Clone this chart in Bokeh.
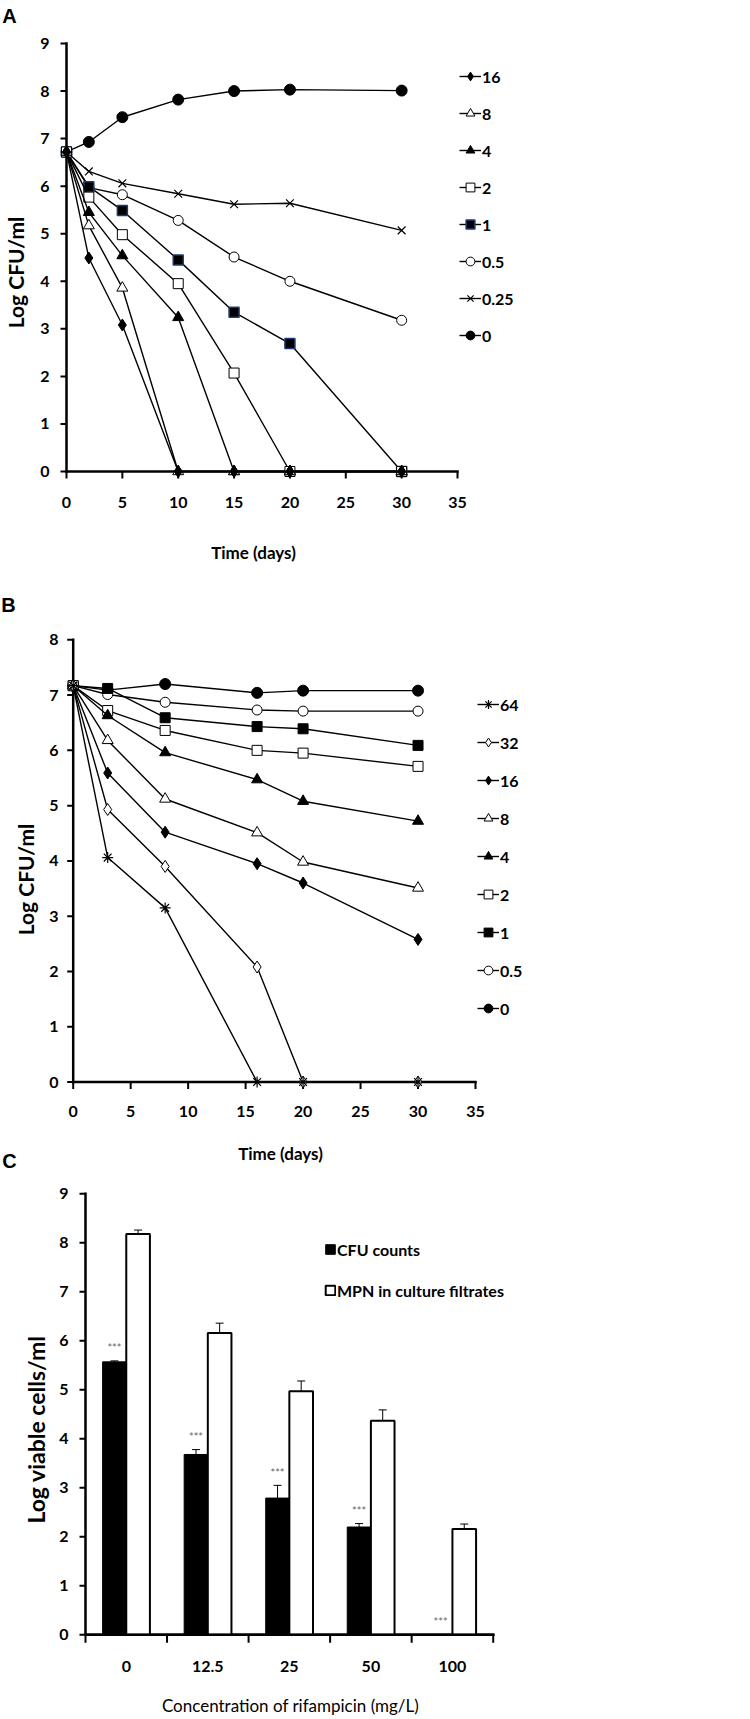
import numpy as np
from bokeh.plotting import figure
from bokeh.layouts import column
from bokeh.models import (ColumnDataSource, Legend, LegendItem, FixedTicker,
                          Whisker, TeeHead, Range1d)
from bokeh.core.properties import value
from bokeh.embed import file_html
from bokeh.resources import INLINE

FONT = "Lato"
LETTER_FONT = "Liberation Sans"

# ---------------- Panel A data ----------------
a_days = [0, 2, 5, 10, 15, 20, 30]
a_conc = ["16", "8", "4", "2", "1", "0.5", "0.25", "0"]
a_16 = [6.72, 4.49, 3.08, 0, 0, 0, 0]
a_8 = [6.72, 5.17, 3.86, 0, 0, 0, 0]
a_4 = [6.72, 5.45, 4.54, 3.24, 0, 0, 0]
a_2 = [6.72, 5.77, 4.98, 3.95, 2.07, 0, 0]
a_1 = [6.72, 5.99, 5.49, 4.45, 3.35, 2.69, 0]
a_05 = [6.72, 5.97, 5.82, 5.28, 4.51, 4.00, 3.18]
a_025 = [6.72, 6.31, 6.06, 5.84, 5.62, 5.64, 5.07]
a_0 = [6.72, 6.93, 7.45, 7.82, 8.00, 8.03, 8.01]
a_x_ticks = [0, 5, 10, 15, 20, 25, 30, 35]
a_y_ticks = [0, 1, 2, 3, 4, 5, 6, 7, 8, 9]

# ---------------- Panel B data ----------------
b_days = [0, 3, 8, 16, 20, 30]
b_conc = ["64", "32", "16", "8", "4", "2", "1", "0.5", "0"]
b_64 = [7.17, 4.06, 3.15, 0, 0, 0]
b_32 = [7.17, 4.93, 3.90, 2.08, 0, 0]
b_16 = [7.17, 5.59, 4.52, 3.95, 3.60, 2.58]
b_8 = [7.17, 6.18, 5.12, 4.51, 3.98, 3.51]
b_4 = [7.17, 6.63, 5.96, 5.47, 5.08, 4.72]
b_2 = [7.17, 6.72, 6.36, 6.00, 5.95, 5.71]
b_1 = [7.17, 7.12, 6.59, 6.43, 6.39, 6.09]
b_05 = [7.17, 7.01, 6.87, 6.73, 6.71, 6.71]
b_0 = [7.17, 7.09, 7.20, 7.04, 7.08, 7.08]
b_x_ticks = [0, 5, 10, 15, 20, 25, 30, 35]
b_y_ticks = [0, 1, 2, 3, 4, 5, 6, 7, 8]

# ---------------- Panel C data ----------------
c_conc = ["0", "12.5", "25", "50", "100"]
c_cfu = [5.57, 3.68, 2.79, 2.20, 0.0]
c_cfu_err = [0.02, 0.10, 0.26, 0.07, 0.0]
c_mpn = [8.18, 6.16, 4.97, 4.37, 2.16]
c_mpn_err = [0.08, 0.20, 0.21, 0.22, 0.10]
c_sig = ["***", "***", "***", "***", "***"]
c_y_ticks = [0, 1, 2, 3, 4, 5, 6, 7, 8, 9]

# ---------------- marker styles ----------------
def mk(marker, size, fill, line="black", lw=1.0):
    return dict(marker=marker, size=size, fill_color=fill, line_color=line, line_width=lw)

FD = mk("diamond", 12, "black")
OD = mk("diamond", 12, "white")
FT = mk("triangle", 11, "black")
OT = mk("triangle", 11, "white")
FS = mk("square", 10, "black")
BS = mk("square", 10, "black", "#1f3a6e", 1.5)
OS = mk("square", 10, "white")
FC = mk("circle", 11, "black")
OC = mk("circle", 10, "white")
XX = mk("x", 11, None, "black", 1.2)
AS = mk("asterisk", 11, None, "black", 1.2)

a_styles = [FD, OT, FT, OS, BS, OC, XX, FC]
b_styles = [AS, OD, FD, OT, FT, OS, FS, OC, FC]

# common frame edges (page pixels) - plots in a column share their frame left edge
FL, FR = 57, 560
RIGHT_BORDER = 185
PAGE_W = FL + (FR - FL) + RIGHT_BORDER


def base_figure(x_range, y_range, ft, fb, canvas_top, canvas_h):
    mbt = ft - canvas_top
    p = figure(title=None, x_range=x_range, y_range=y_range,
               width=PAGE_W, height=canvas_h,
               min_border_left=FL, min_border_right=RIGHT_BORDER,
               min_border_top=mbt, min_border_bottom=canvas_h - (fb - canvas_top),
               output_backend="svg", toolbar_location=None)
    p.grid.visible = False
    p.outline_line_color = None
    p.background_fill_color = "white"
    p.border_fill_color = "white"
    return p


def style_text_axis(ax, standoff):
    ax.axis_line_color = None
    ax.major_tick_line_color = None
    ax.minor_tick_line_color = None
    ax.major_tick_in = 0
    ax.major_tick_out = 0
    ax.minor_tick_in = 0
    ax.minor_tick_out = 0
    ax.major_label_text_font = FONT
    ax.major_label_text_font_size = "16px"
    ax.major_label_text_font_style = "bold"
    ax.major_label_text_color = "black"
    ax.major_label_standoff = standoff


def draw_axes(p, x_lo, x_hi, y_ticks, x_tick_pos, sx, sy, xtick_len=7):
    p.segment(x0=[x_lo, 0], y0=[0, y_ticks[0]], x1=[x_hi, 0], y1=[0, y_ticks[-1]],
              line_color="black", line_width=2.5, line_cap="square")
    p.segment(x0=x_tick_pos, y0=[0] * len(x_tick_pos), x1=x_tick_pos,
              y1=[-xtick_len / sy] * len(x_tick_pos), line_color="black", line_width=2)
    p.segment(x0=[0] * len(y_ticks), y0=y_ticks, x1=[-6 / sx] * len(y_ticks), y1=y_ticks,
              line_color="black", line_width=2)


def add_texts(p, dx, dy, items):
    for (px, py, txt, font, size, style, ang) in items:
        p.text(x=[dx(px)], y=[dy(py)], text=[txt], text_font=value(font),
               text_font_size=size, text_font_style=style, text_color="black",
               text_align="center", text_baseline="middle", angle=ang, level="overlay")


def line_panel(days, names, series, styles, x_ticks, y_ticks, g):
    sx = (g["xmax_px"] - g["x0_px"]) / x_ticks[-1]
    sy = (g["y0_px"] - g["ytop_px"]) / y_ticks[-1]
    dx = lambda px: (px - g["x0_px"]) / sx
    dy = lambda py: (g["y0_px"] - py) / sy
    ft, fb = g["ft"], g["fb"]
    p = base_figure(Range1d(dx(FL), dx(FR)), Range1d(dy(fb), dy(ft)), ft, fb,
                    g["canvas_top"], g["canvas_h"])
    p.xaxis.ticker = FixedTicker(ticks=x_ticks)
    p.yaxis.ticker = FixedTicker(ticks=y_ticks)
    style_text_axis(p.xaxis[0], g["x_standoff"])
    style_text_axis(p.yaxis[0], g["y_standoff"])
    draw_axes(p, x_ticks[0], x_ticks[-1], y_ticks, x_ticks, sx, sy)

    rend = {}
    for name, vals, st in reversed(list(zip(names, series, styles))):
        src = ColumnDataSource(dict(x=days, y=vals))
        lr = p.line("x", "y", source=src, line_color="black", line_width=1.4)
        sr = p.scatter("x", "y", source=src, **st)
        rend[name] = (lr, sr)
    items = [LegendItem(label=n, renderers=list(rend[n])) for n in names]
    lg = g["legend"]
    nitem = len(names)
    h = 24
    top = lg["first_center"] - h / 2
    bottom = top + nitem * h + (nitem - 1) * lg["spacing"]
    leg = Legend(items=items, location=(lg["left"] - FL, fb - bottom),
                 orientation="vertical", glyph_width=22, glyph_height=h, label_height=h,
                 spacing=lg["spacing"], padding=0, margin=0, border_line_color=None,
                 background_fill_alpha=0, label_standoff=1,
                 label_text_font=FONT, label_text_font_size="16px",
                 label_text_font_style="bold", label_text_color="black")
    p.add_layout(leg)
    add_texts(p, dx, dy, g["texts"])
    return p


# ---------------- Panel A ----------------
gA = dict(x0_px=66, xmax_px=457, y0_px=471, ytop_px=43, ft=38, fb=490,
          canvas_top=0, canvas_h=585, x_standoff=6, y_standoff=8,
          legend=dict(left=459, first_center=76, spacing=13),
          texts=[(9, 15, "A", LETTER_FONT, "20px", "bold", 0.0),
                 (15, 272, "Log CFU/ml", FONT, "21px", "bold", np.pi / 2),
                 (253, 552, "Time (days)", FONT, "17px", "bold", 0.0)])
pA = line_panel(a_days, a_conc, [a_16, a_8, a_4, a_2, a_1, a_05, a_025, a_0], a_styles,
                a_x_ticks, a_y_ticks, gA)

# ---------------- Panel B ----------------
gB = dict(x0_px=72.7, xmax_px=475, y0_px=1081.5, ytop_px=639.3, ft=632, fb=1100,
          canvas_top=585, canvas_h=587, x_standoff=5, y_standoff=-1,
          legend=dict(left=477, first_center=704, spacing=14),
          texts=[(8, 604, "B", LETTER_FONT, "20px", "bold", 0.0),
                 (9, 1160, "C", LETTER_FONT, "20px", "bold", 0.0),
                 (25, 879, "Log CFU/ml", FONT, "21px", "bold", np.pi / 2),
                 (280, 1153, "Time (days)", FONT, "17px", "bold", 0.0)])
pB = line_panel(b_days, b_conc, [b_64, b_32, b_16, b_8, b_4, b_2, b_1, b_05, b_0], b_styles,
                b_x_ticks, b_y_ticks, gB)

# ---------------- Panel C ----------------
C_TOP, C_H = 1172, 545
c_ft, c_fb = 1188, 1650
n = len(c_conc)
c_x0, c_x5 = 85.0, 492.7
c_y0, c_y9 = 1634.3, 1193.3
csx = (c_x5 - c_x0) / n
csy = (c_y0 - c_y9) / c_y_ticks[-1]
cdx = lambda px: (px - c_x0) / csx
cdy = lambda py: (c_y0 - py) / csy
pC = base_figure(Range1d(cdx(FL), cdx(FR)), Range1d(cdy(c_fb), cdy(c_ft)), c_ft, c_fb,
                 C_TOP, C_H)
centers = np.arange(n) + 0.5
draw_axes(pC, 0, n, c_y_ticks, list(range(n + 1)), csx, csy, xtick_len=8)

off, bw = 0.145, 0.29
csrc = ColumnDataSource(dict(xc=centers - off, xm=centers + off, cfu=c_cfu, mpn=c_mpn,
                             sig=c_sig, sig_y=np.array(c_cfu) + np.array(c_cfu_err) + 0.27))
r_cfu = pC.vbar(x="xc", width=bw, top="cfu", bottom=0, source=csrc,
                fill_color="black", line_color="black", line_width=1)
r_mpn = pC.vbar(x="xm", width=bw, top="mpn", bottom=0, source=csrc,
                fill_color="white", line_color="black", line_width=2)
pC.segment(x0=[0], y0=[0], x1=[n], y1=[0], line_color="black", line_width=2.5,
           line_cap="square")

eb_x, eb_lo, eb_hi = [], [], []
for xs, vals, errs in ((centers - off, c_cfu, c_cfu_err), (centers + off, c_mpn, c_mpn_err)):
    for xv, v, e in zip(xs, vals, errs):
        if e > 0:
            eb_x.append(xv); eb_lo.append(v - e); eb_hi.append(v + e)
esrc = ColumnDataSource(dict(x=eb_x, lower=eb_lo, upper=eb_hi))
pC.add_layout(Whisker(base="x", lower="lower", upper="upper", source=esrc,
                      line_color="black", line_width=1,
                      upper_head=TeeHead(size=8, line_width=1, line_color="black"),
                      lower_head=TeeHead(size=8, line_width=1, line_color="black")))
pC.text(x="xc", y="sig_y", text="sig", source=csrc, text_font=value(FONT),
        text_font_size="11px", text_color="#666666", text_align="center",
        text_baseline="middle")

pC.xaxis.ticker = FixedTicker(ticks=list(centers))
pC.xaxis.major_label_overrides = {float(c): lab for c, lab in zip(centers, c_conc)}
pC.yaxis.ticker = FixedTicker(ticks=c_y_ticks)
style_text_axis(pC.xaxis[0], 10)
style_text_axis(pC.yaxis[0], -11)

c_h = 19
c_sp = 22
c_top = 1249 - c_h / 2
c_bottom = c_top + 2 * c_h + c_sp
cleg = Legend(items=[LegendItem(label="CFU counts", renderers=[r_cfu]),
                     LegendItem(label="MPN in culture filtrates", renderers=[r_mpn])],
              location=(324 - FL, c_fb - c_bottom), orientation="vertical",
              glyph_width=12, glyph_height=12, label_height=12, spacing=c_sp,
              padding=0, margin=0, border_line_color=None, background_fill_alpha=0,
              label_standoff=1, label_text_font=FONT, label_text_font_size="16px",
              label_text_font_style="bold", label_text_color="black")
pC.add_layout(cleg)
add_texts(pC, cdx, cdy, [(35, 1429, "Log viable cells/ml", FONT, "23px", "bold", np.pi / 2),
                         (290, 1705, "Concentration of rifampicin (mg/L)", FONT, "17px",
                          "normal", 0.0)])

layout = column(pA, pB, pC)
open("out.html", "w").write(file_html(layout, INLINE))
